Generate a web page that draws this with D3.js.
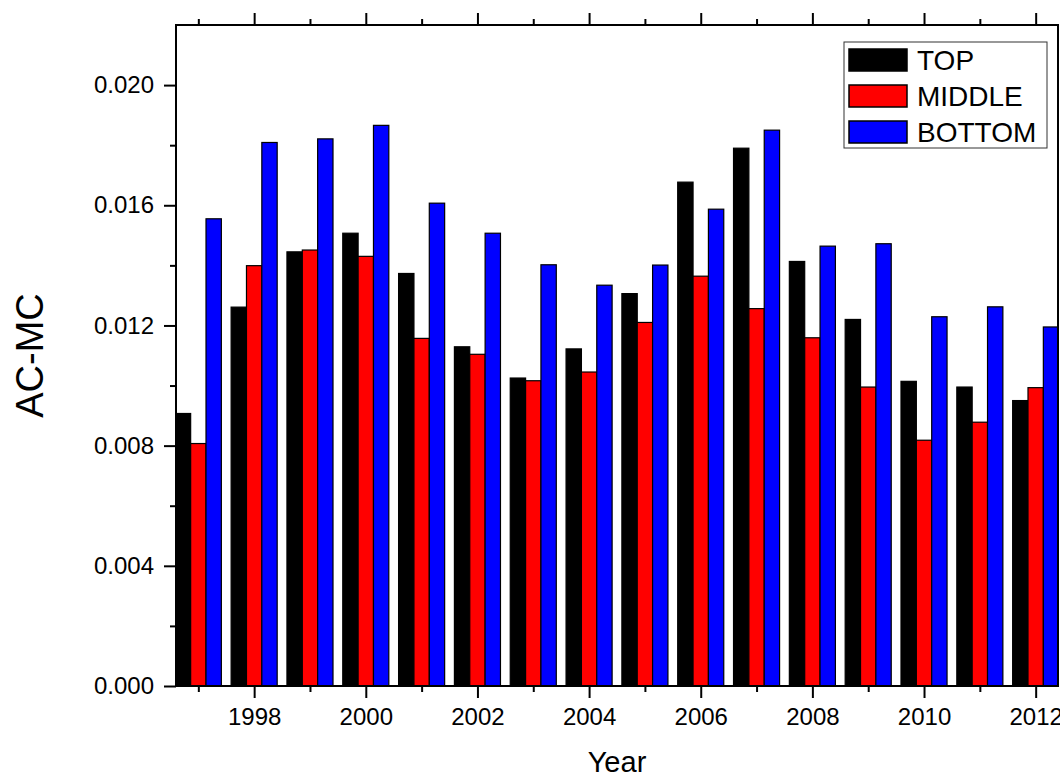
<!DOCTYPE html>
<html>
<head>
<meta charset="utf-8">
<script src="https://cdn.jsdelivr.net/npm/d3@7"></script>
<style>
  body { margin: 0; background: #fff; }
  text { font-family: Arial, "Liberation Sans", sans-serif; fill: #000; }
  .axis path, .axis line { stroke: #000; stroke-width: 2; }
</style>
</head>
<body>
<div id="chart"></div>
<script>
// Data
var years = [1997, 1998, 1999, 2000, 2001, 2002, 2003, 2004, 2005, 2006, 2007, 2008, 2009, 2010, 2011, 2012];
var topVals = [0.00907, 0.01261, 0.01445, 0.01507, 0.01373, 0.01129, 0.01025, 0.01122, 0.01306, 0.01677, 0.01790, 0.01413, 0.01220, 0.01014, 0.00995, 0.00950];
var middleVals = [0.00807, 0.01399, 0.01451, 0.01430, 0.01157, 0.01104, 0.01016, 0.01045, 0.01210, 0.01364, 0.01256, 0.01159, 0.00995, 0.00818, 0.00878, 0.00993];
var bottomVals = [0.01555, 0.01809, 0.01821, 0.01866, 0.01607, 0.01507, 0.01402, 0.01334, 0.01401, 0.01587, 0.01850, 0.01464, 0.01472, 0.01229, 0.01262, 0.01195];
var seriesNames = ["TOP", "MIDDLE", "BOTTOM"];
var xMajorTicks = [1998, 2000, 2002, 2004, 2006, 2008, 2010, 2012];
var xMinorTicks = [1997, 1999, 2001, 2003, 2005, 2007, 2009, 2011];
var yMajorTicks = [0.000, 0.004, 0.008, 0.012, 0.016, 0.020];
var yMinorTicks = [0.002, 0.006, 0.010, 0.014, 0.018];

var seriesColors = ["#000000", "#ff0000", "#0000ff"];

// Plot box (avoid the name "top", it is window.top)
var W = 1060, H = 778;
var plotL = 176, plotR = 1058, plotT = 25, plotB = 686;

var svg = d3.select('#chart').append('svg')
  .attr('width', W)
  .attr('height', H);

var x = d3.scaleLinear().domain([1996.6, 2012.4]).range([plotL, plotR]);
var y = d3.scaleLinear().domain([0, 0.022]).range([plotB, plotT]);

// bar width in years, three bars side by side
var barW = 0.275;

var series = [topVals, middleVals, bottomVals];

svg.append('clipPath').attr('id', 'plotclip')
  .append('rect')
  .attr('x', plotL).attr('y', plotT)
  .attr('width', plotR - plotL).attr('height', plotB - plotT);

var barsG = svg.append('g').attr('clip-path', 'url(#plotclip)');

series.forEach(function(vals, si) {
  barsG.selectAll('.bar' + si)
    .data(years.map(function(yr, i) { return {year: yr, value: vals[i]}; }))
    .enter()
    .append('rect')
    .attr('class', 'bar' + si)
    .attr('x', function(d) { return x(d.year + (si - 1.5) * barW); })
    .attr('width', function(d) { return x(d.year + (si - 0.5) * barW) - x(d.year + (si - 1.5) * barW); })
    .attr('y', function(d) { return y(d.value); })
    .attr('height', function(d) { return y(0) - y(d.value); })
    .attr('fill', seriesColors[si])
    .attr('stroke', '#000')
    .attr('stroke-width', 1.2);
});

// Bottom axis, labelled majors and bare minors
var gx = svg.append('g').attr('class', 'axis')
  .attr('transform', 'translate(0,' + plotB + ')')
  .call(d3.axisBottom(x).tickValues(xMajorTicks).tickSize(12).tickPadding(10).tickFormat(d3.format('d')));
gx.select('.domain').remove();
gx.selectAll('text').attr('font-size', 24).attr('dy', '0.71em');

var gxm = svg.append('g').attr('class', 'axis')
  .attr('transform', 'translate(0,' + plotB + ')')
  .call(d3.axisBottom(x).tickValues(xMinorTicks).tickSize(6).tickFormat(''));
gxm.select('.domain').remove();

// Top axis, ticks only
var gt = svg.append('g').attr('class', 'axis')
  .attr('transform', 'translate(0,' + plotT + ')')
  .call(d3.axisTop(x).tickValues(xMajorTicks).tickSize(12).tickFormat(''));
gt.select('.domain').remove();
var gtm = svg.append('g').attr('class', 'axis')
  .attr('transform', 'translate(0,' + plotT + ')')
  .call(d3.axisTop(x).tickValues(xMinorTicks).tickSize(6).tickFormat(''));
gtm.select('.domain').remove();

// Left axis
var gy = svg.append('g').attr('class', 'axis')
  .attr('transform', 'translate(' + plotL + ',0)')
  .call(d3.axisLeft(y).tickValues(yMajorTicks).tickSize(12).tickPadding(10).tickFormat(d3.format('.3f')));
gy.select('.domain').remove();
gy.selectAll('text').attr('font-size', 24);

var gym = svg.append('g').attr('class', 'axis')
  .attr('transform', 'translate(' + plotL + ',0)')
  .call(d3.axisLeft(y).tickValues(yMinorTicks).tickSize(6).tickFormat(''));
gym.select('.domain').remove();

// Frame
svg.append('rect')
  .attr('x', plotL).attr('y', plotT)
  .attr('width', plotR - plotL).attr('height', plotB - plotT)
  .attr('fill', 'none')
  .attr('stroke', '#000')
  .attr('stroke-width', 2);

// Axis titles
svg.append('text')
  .attr('x', (plotL + plotR) / 2)
  .attr('y', 772)
  .attr('text-anchor', 'middle')
  .attr('font-size', 29)
  .text('Year');

svg.append('text')
  .attr('transform', 'translate(43,' + ((plotT + plotB) / 2) + ') rotate(-90)')
  .attr('text-anchor', 'middle')
  .attr('font-size', 38)
  .text('AC-MC');

// Legend
var legend = svg.append('g').attr('transform', 'translate(844,42)');
legend.append('rect')
  .attr('width', 203).attr('height', 106)
  .attr('fill', '#fff')
  .attr('stroke', '#333')
  .attr('stroke-width', 1);

seriesNames.forEach(function(name, i) {
  var row = legend.append('g').attr('transform', 'translate(0,' + (i * 36) + ')');
  row.append('rect')
    .attr('x', 5).attr('y', 7)
    .attr('width', 58).attr('height', 22)
    .attr('fill', seriesColors[i])
    .attr('stroke', '#000')
    .attr('stroke-width', 1.5);
  row.append('text')
    .attr('x', 73).attr('y', 28)
    .attr('font-size', 28)
    .text(name);
});
</script>
</body>
</html>
